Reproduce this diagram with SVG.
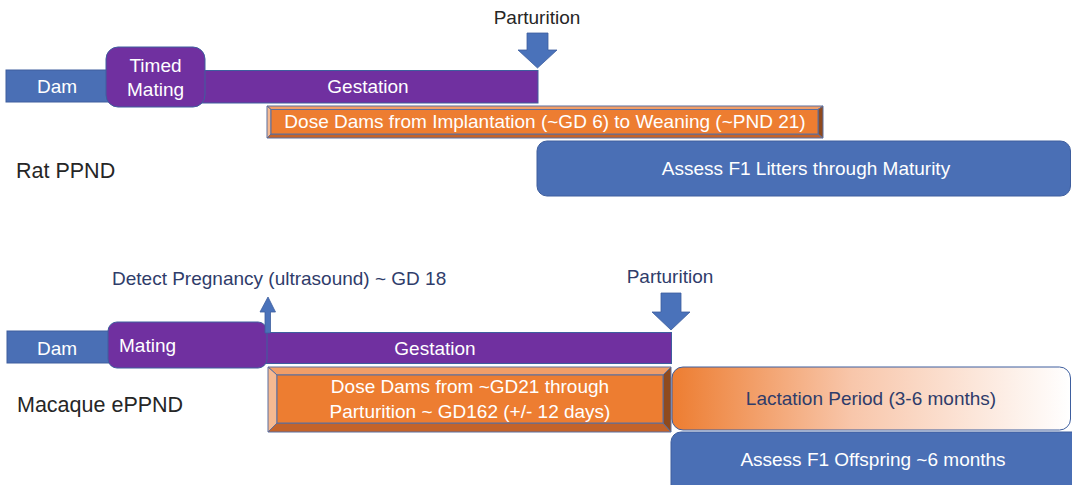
<svg xmlns="http://www.w3.org/2000/svg" width="1072" height="485" viewBox="0 0 1072 485">
<defs>
<linearGradient id="lact" x1="0" y1="0" x2="1" y2="0">
<stop offset="0" stop-color="#ED7D31"/>
<stop offset="0.45" stop-color="#F8C6AA"/>
<stop offset="1" stop-color="#FFFFFF"/>
</linearGradient>
<style>
text{font-family:"Liberation Sans",Arial,sans-serif;font-size:19px}
.w{fill:#FFFFFF}
.dk{fill:#262626}
.nv{fill:#2F3C6A}
.c{text-anchor:middle}
.blue{fill:#4A6FB5;stroke:#3E5E9E;stroke-width:1}
.pur{fill:#7030A0;stroke:#3E5E9E;stroke-width:1}
.arr{fill:#4A72BA;stroke:#3E5E9E;stroke-width:0.8}
.bv{stroke:#5A6E9E;stroke-width:1;stroke-linejoin:miter}
.face{fill:#ED7D31}
.bt{fill:#F19E68}
.bl{fill:#F5B991}
.bb{fill:#C4632A}
.br{fill:#8F4A1E}
.lbl{font-size:21.5px}
</style>
</defs>

<!-- Top: Rat PPND -->
<g id="rat-dam"><rect class="blue" x="6" y="70" width="104" height="32"/><text class="w c" x="57" y="93">Dam</text></g>
<g id="rat-gestation"><rect class="pur" x="200" y="70.5" width="338" height="32.5"/><text class="w c" x="368" y="93">Gestation</text></g>
<g id="rat-timed-mating"><rect class="pur" x="106" y="47" width="99" height="60" rx="12"/><text class="w c" x="155.5" y="72" font-size="18">Timed</text><text class="w c" x="155.5" y="96" font-size="18">Mating</text></g>
<g id="rat-dose">
<g class="bv">
<polygon class="bt" points="267,106 823,106 818,109.5 271,109.5"/>
<polygon class="bl" points="267,106 271,109.5 271,134 267,138"/>
<polygon class="bb" points="267,138 271,134 818,134 823,138"/>
<polygon class="br" points="823,106 823,138 818,134 818,109.5"/>
<rect class="face" x="271" y="109.5" width="547" height="24.5"/>
</g>
<text class="w c" x="545" y="128" font-size="18.5">Dose Dams from Implantation (~GD 6) to Weaning (~PND 21)</text>
</g>
<g id="rat-assess"><rect class="blue" x="537" y="141" width="533.5" height="55" rx="10"/><text class="w c" x="806" y="175">Assess F1 Litters through Maturity</text></g>
<g id="rat-label"><text class="dk lbl" x="16" y="178">Rat PPND</text></g>
<g id="rat-parturition"><text class="dk c" x="537" y="24">Parturition</text></g>

<!-- Bottom: Macaque ePPND -->
<g id="mac-dam"><rect class="blue" x="7" y="331" width="104" height="32"/><text class="w c" x="57" y="355">Dam</text></g>
<g id="mac-gestation"><rect class="pur" x="260" y="332.5" width="411.5" height="31"/><text class="w c" x="435" y="355">Gestation</text></g>
<g id="mac-mating"><rect class="pur" x="108" y="322" width="159" height="46" rx="9"/><text class="w" x="119" y="352">Mating</text></g>
<g id="mac-dose">
<g class="bv">
<polygon class="bt" points="268,367 671,367 663,375 277,375"/>
<polygon class="bl" points="268,367 277,375 277,423 268,432"/>
<polygon class="bb" points="268,432 277,423 663,423 671,432"/>
<polygon class="br" points="671,367 671,432 663,423 663,375"/>
<rect class="face" x="277" y="375" width="386" height="48"/>
</g>
<text class="w c" x="470" y="393">Dose Dams from ~GD21 through</text>
<text class="w c" x="470" y="418">Parturition ~ GD162 (+/- 12 days)</text>
</g>
<g id="mac-lactation"><rect x="672" y="367" width="398.5" height="63" rx="11" fill="url(#lact)" stroke="#3E5E9E" stroke-width="1"/><text class="nv c" x="871" y="405">Lactation Period (3-6 months)</text></g>
<g id="mac-assess"><rect class="blue" x="671" y="432" width="420" height="70" rx="10"/><text class="w c" x="873" y="466">Assess F1 Offspring ~6 months</text></g>
<g id="mac-label"><text class="dk lbl" x="17" y="412">Macaque ePPND</text></g>
<g id="mac-detect"><text class="nv" x="112" y="285">Detect Pregnancy (ultrasound) ~ GD 18</text></g>
<g id="mac-parturition"><text class="nv c" x="670" y="283">Parturition</text></g>

<!-- connectors (arrows) -->
<g id="connectors">
<polygon class="arr" points="527,33 548,33 548,50 557,50 537.5,68 518,50 527,50"/>
<polygon class="arr" points="661,293 681,293 681,312 690,312 671,330 652,312 661,312"/>
<polygon class="arr" points="265,333 270.5,333 270.5,312 275.5,312 268,297 260,312 265,312"/>
</g>
</svg>
